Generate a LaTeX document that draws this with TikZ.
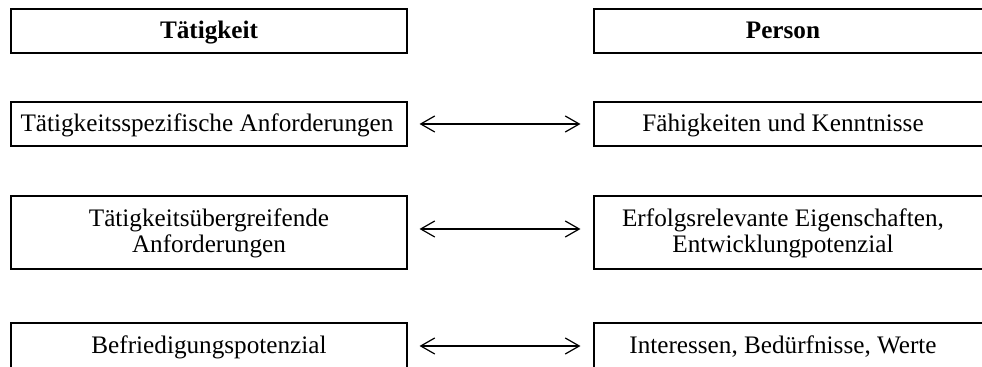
\documentclass[tikz,border=0pt]{standalone}
\usepackage{fontspec}
\setmainfont{Liberation Serif}
\usetikzlibrary{arrows.meta}
\tikzset{
  box/.style={draw, line width=0.55pt, minimum width=198pt, inner sep=0pt},
  headbox/.style={box, line width=0.9pt},
  label/.style={inner sep=0pt, align=center, font=\fontsize{12.6}{13.2}\selectfont},
  boldlabel/.style={label, font=\fontsize{12.6}{13.2}\selectfont\bfseries},
  link/.style={line width=0.6pt, {Straight Barb[length=7pt, width=8pt, line width=0.6pt]}-{Straight Barb[length=7pt, width=8pt, line width=0.6pt]}}
}
\begin{document}
\begin{tikzpicture}[x=0.5pt, y=-0.5pt]
\clip (0,0) rectangle (982,367);
% left column: Tätigkeit
\node[headbox, minimum height=22pt] (l1) at (209,31) {};
\node[box, minimum height=22pt] (l2) at (209,124) {};
\node[box, minimum height=36.5pt] (l3) at (209,232.5) {};
\node[box, minimum height=23pt] (l4) at (209,346) {};
\node[boldlabel, anchor=base] (lt1) at ([yshift=-4pt]l1.center) {Tätigkeit};
\node[label, anchor=base] (lt2) at ([xshift=-1pt, yshift=-4pt]l2.center) {Tätigkeitsspezifische Anforderungen};
\node[label] (lt3) at ([yshift=-0.5pt]l3.center) {Tätigkeitsübergreifende\\Anforderungen};
\node[label, anchor=base] (lt4) at ([yshift=-4pt]l4.center) {Befriedigungspotenzial};
% right column: Person (boxes run past the right margin)
\node[headbox, minimum height=22pt] (r1) at (792,31) {};
\node[box, minimum height=22pt] (r2) at (792,124) {};
\node[box, minimum height=36.5pt] (r3) at (792,232.5) {};
\node[box, minimum height=23pt] (r4) at (792,346) {};
\node[boldlabel, anchor=base] (rt1) at ([xshift=-4.5pt, yshift=-4pt]r1.center) {Person};
\node[label, anchor=base] (rt2) at ([xshift=-4.5pt, yshift=-4pt]r2.center) {Fähigkeiten und Kenntnisse};
\node[label] (rt3) at ([xshift=-4.5pt, yshift=-0.5pt]r3.center) {Erfolgsrelevante Eigenschaften,\\Entwicklungpotenzial};
\node[label, anchor=base] (rt4) at ([xshift=-4.5pt, yshift=-4pt]r4.center) {Interessen, Bedürfnisse, Werte};
% correspondences
\draw[link] ([xshift=6pt]l2.east) -- ([xshift=-6.5pt]r2.west);
\draw[link] ([xshift=6pt, yshift=1.75pt]l3.east) -- ([xshift=-6.5pt, yshift=1.75pt]r3.west);
\draw[link] ([xshift=6pt]l4.east) -- ([xshift=-6.5pt]r4.west);
\end{tikzpicture}
\end{document}
